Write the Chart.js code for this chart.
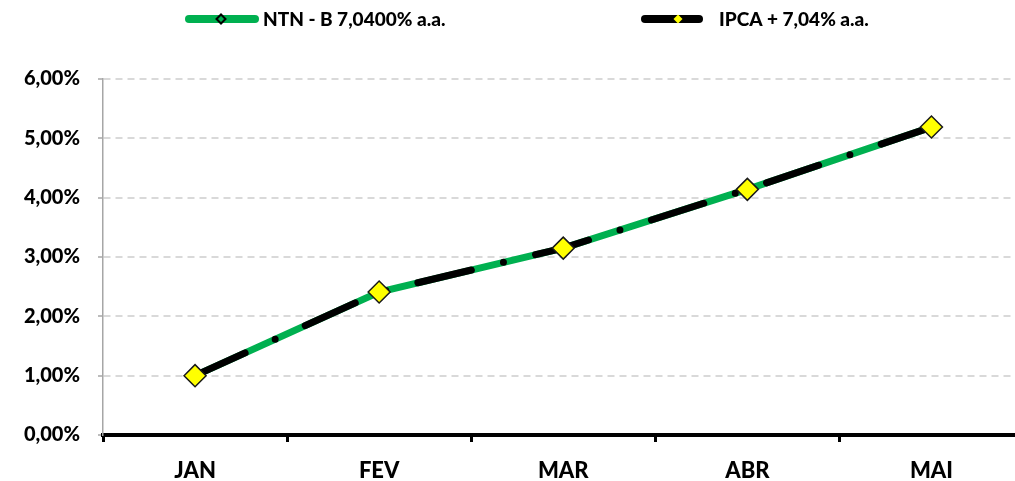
<!DOCTYPE html>
<html><head><meta charset="utf-8">
<script src="https://cdn.jsdelivr.net/npm/chart.js@4"></script>
<style>
html,body{margin:0;padding:0;overflow:hidden;background:#fff;width:1015px;height:481px}
#wrap{position:absolute;left:0;top:0;width:1015px;height:481px;overflow:hidden}
#c{display:block;width:1036px;height:481px}
</style>
</head><body><div id="wrap"><canvas id="c" width="1036" height="481"></canvas></div>
<script>
const categories = ['JAN', 'FEV', 'MAR', 'ABR', 'MAI'];
const ntnbValues = [1.00, 2.41, 3.15, 4.14, 5.19];
const ipcaValues = [1.00, 2.41, 3.15, 4.14, 5.19];
const seriesLabels = ['NTN - B 7,0400% a.a.', 'IPCA + 7,04% a.a.'];
const yMin = 0, yMax = 6, yStep = 1;

const FONT = 'Lato, "Liberation Sans", sans-serif';
Chart.defaults.font.family = FONT;

function diamond(ctx, x, y, r, fill, stroke, lw) {
  ctx.beginPath();
  ctx.moveTo(x - r, y); ctx.lineTo(x, y - r); ctx.lineTo(x + r, y); ctx.lineTo(x, y + r); ctx.closePath();
  if (fill) { ctx.fillStyle = fill; ctx.fill(); }
  if (stroke) { ctx.strokeStyle = stroke; ctx.lineWidth = lw; ctx.stroke(); }
}

const legendPlugin = {
  id: 'customLegend',
  afterDraw(chart) {
    const ctx = chart.ctx;
    const ds = chart.data.datasets;
    ctx.save();
    ctx.lineCap = 'round';
    ctx.font = '900 19px ' + FONT;
    ctx.textBaseline = 'middle';
    ctx.textAlign = 'left';
    const cy = 19;
    // NTN-B item
    ctx.lineWidth = 8; ctx.strokeStyle = ds[1].borderColor;
    ctx.beginPath(); ctx.moveTo(189, cy); ctx.lineTo(255, cy); ctx.stroke();
    diamond(ctx, 221, cy, 4.5, ds[1].borderColor, '#000', 2);
    ctx.fillStyle = '#000';
    ctx.fillText(ds[1].label, 263, cy + 1);
    // IPCA item
    ctx.lineWidth = 8; ctx.strokeStyle = ds[0].borderColor;
    ctx.beginPath(); ctx.moveTo(645, cy); ctx.lineTo(699, cy); ctx.stroke();
    diamond(ctx, 678, cy, 4.5, ds[0].pointBackgroundColor, null, 0);
    ctx.fillStyle = '#000';
    ctx.fillText(ds[0].label, 719, cy + 1);
    ctx.restore();
  }
};

new Chart(document.getElementById('c'), {
  type: 'line',
  data: {
    labels: categories,
    datasets: [
      {
        label: seriesLabels[1], data: ipcaValues,
        borderColor: '#000000', borderWidth: 7, borderDash: [55, 33, 0, 33], borderCapStyle: 'round',
        pointStyle: 'rectRot', pointRadius: 11, pointHoverRadius: 11,
        pointBackgroundColor: '#ffff00', pointBorderColor: '#1a1a1a', pointBorderWidth: 1.5,
        fill: false, tension: 0
      },
      {
        label: seriesLabels[0], data: ntnbValues,
        borderColor: '#00b050', borderWidth: 7, borderCapStyle: 'butt',
        pointRadius: 0, fill: false, tension: 0
      }
    ]
  },
  options: {
    responsive: false,
    animation: false,
    layout: { padding: { top: 79, right: 12, left: 0, bottom: 0 } },
    plugins: { legend: { display: false }, tooltip: { enabled: false } },
    scales: {
      x: {
        type: 'category',
        offset: true,
        afterFit(scale) { scale.height = 46; },
        grid: { display: true, drawOnChartArea: false, drawTicks: true, tickLength: 7, tickWidth: 3, tickColor: '#000', offset: true },
        border: { display: true, color: '#000', width: 4 },
        ticks: { color: '#000', font: { size: 22, weight: 900 }, padding: 16, maxRotation: 0 }
      },
      y: {
        min: yMin, max: yMax,
        afterFit(scale) { scale.width = 103; },
        grid: {
          color: (c) => (c.tick && c.tick.value === 0) ? 'rgba(0,0,0,0)' : '#d9d9d9',
          lineWidth: 2, drawTicks: true, tickLength: 5, tickColor: '#a6a6a6', tickWidth: 1.5
        },
        border: { display: true, color: '#a6a6a6', width: 1.5, dash: [7, 5] },
        ticks: {
          stepSize: yStep, padding: 18, color: '#000', font: { size: 20, weight: 900 },
          callback: (v) => v.toFixed(2).replace('.', ',') + '%'
        }
      }
    }
  },
  plugins: [legendPlugin]
});
</script>
</body></html>
